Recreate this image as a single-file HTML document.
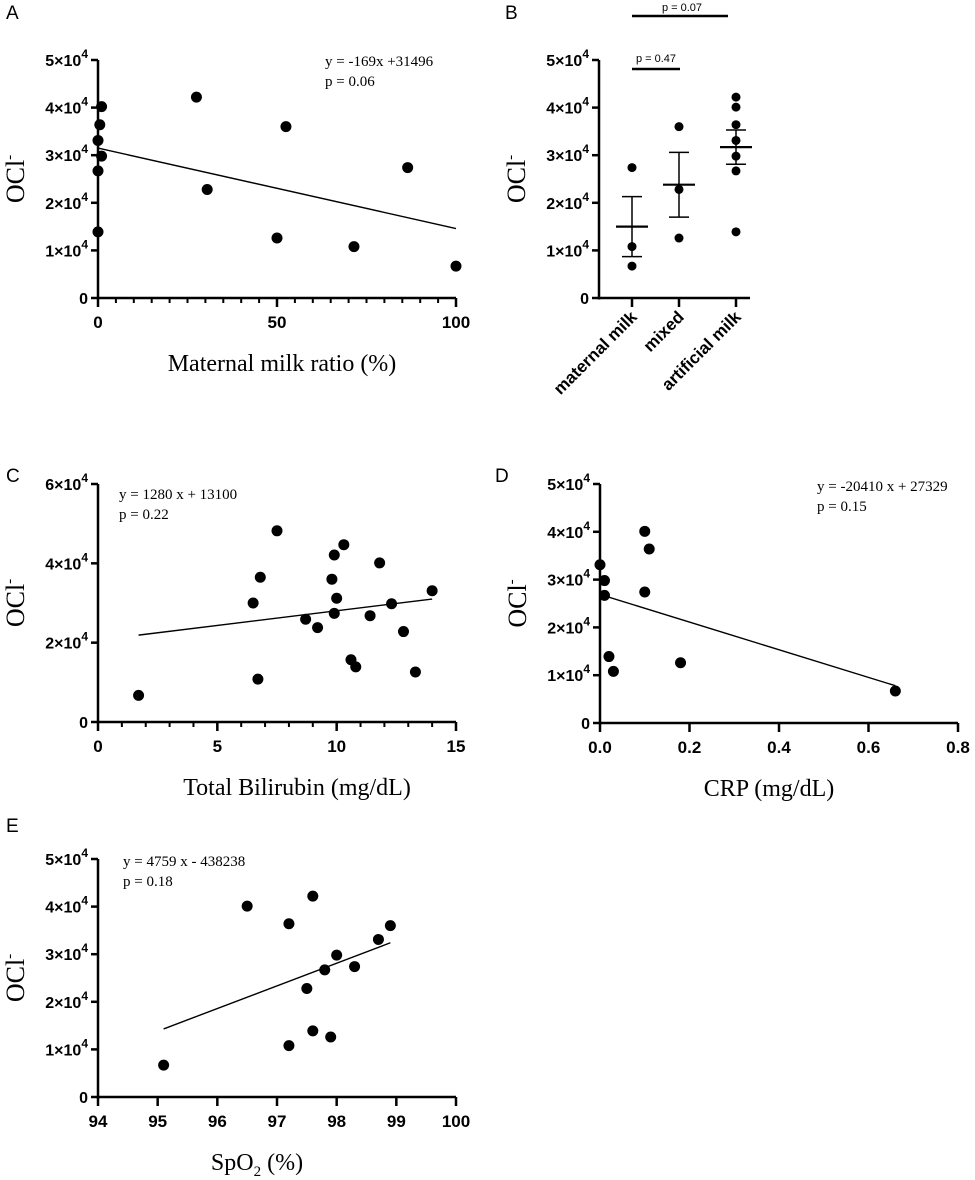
<!DOCTYPE html>
<html><head><meta charset="utf-8"><style>
body{margin:0;background:#fff;}
svg{display:block;}
.tk{font-family:"Liberation Sans",Arial,sans-serif;font-weight:bold;fill:#000;}
.sr{font-family:"Liberation Serif",serif;fill:#000;}
.pl{font-family:"Liberation Sans",sans-serif;font-size:19px;fill:#000;}
</style></head><body>
<svg id="fig" width="975" height="1180" viewBox="0 0 975 1180"></svg>
<script>
// Panel A data
const aX=[1,0.5,0,1,0,0,27.5,30.5,50,52.5,71.5,86.5,100];
const aY=[40200,36400,33100,29800,26700,13900,42200,22800,12600,36000,10800,27400,6700];
const aFit=[0,31496,100,14596];
// Panel B data
const bCats=["maternal milk","mixed","artificial milk"];
const bVals=[[27400,10800,6700],[36000,22800,12600],[42200,40100,36400,33100,29800,26700,13900]];
const bMean=[15000,23800,31700];
const bSem=[6300,6800,3600];
// Panel C data
const cX=[1.7,6.5,6.8,6.7,7.5,8.7,9.2,9.8,9.9,10.3,10.0,9.9,10.6,10.8,11.4,11.8,12.3,12.8,13.3,14.0];
const cY=[6700,30000,36500,10800,48200,25900,23800,36000,42100,44700,31200,27400,15700,13900,26800,40100,29800,22800,12600,33100];
const cFit=[1.7,21900,14,31000];
// Panel D data
const dX=[0,0.01,0.01,0.02,0.03,0.1,0.11,0.1,0.18,0.66];
const dY=[33100,29800,26700,13900,10800,40100,36400,27400,12600,6700];
const dFit=[0,26900,0.66,7800];
// Panel E data
const eX=[95.1,96.5,97.2,97.2,97.5,97.6,97.6,97.8,97.9,98.0,98.3,98.7,98.9];
const eY=[6700,40100,36400,10800,22800,42200,13900,26700,12600,29800,27400,33100,36000];
const eFit=[95.1,14300,98.9,32400];

const NS="http://www.w3.org/2000/svg";
const svg=document.getElementById('fig');
function el(tag,attrs,parent,text){const e=document.createElementNS(NS,tag);for(const k in attrs)e.setAttribute(k,attrs[k]);if(text!==undefined)e.textContent=text;(parent||svg).appendChild(e);return e;}
function yLab(g,v){
  const t=el('text',{x:0,y:0,'text-anchor':'end',class:'tk',style:'font-size:16px'},g);
  if(v===0){t.textContent='0';return t;}
  const m=v/10000;
  t.appendChild(document.createTextNode(m+'×10'));
  const s=document.createElementNS(NS,'tspan');s.setAttribute('dy','-8');s.setAttribute('style','font-size:12px');s.textContent='4';t.appendChild(s);
  return t;
}
function panel(o){
  const g=el('g',{});
  
  
  const sx=v=>o.x0+(v-o.xmin)/(o.xmax-o.xmin)*(o.x1-o.x0);
  const sy=v=>o.y0-(v/o.ymax)*(o.y0-o.y1);
  const L=el('text',{x:o.lx,y:o.ly,class:'pl'},g,o.id);
  
  
  el('line',{x1:o.x0,y1:o.y1,x2:o.x0,y2:o.y0+1.5,stroke:'#000','stroke-width':2.5},g);
  const xa=el('line',{x1:o.x0-1,y1:o.y0,x2:o.xend||o.x1,y2:o.y0,stroke:'#000','stroke-width':2.5},g);
  
  for(let v=0;v<=o.ymax;v+=o.ystep){
    const y=sy(v);
    el('line',{x1:o.x0-7,y1:y,x2:o.x0,y2:y,stroke:'#000','stroke-width':2.5},g);
    const t=yLab(g,v);t.setAttribute('transform',`translate(${o.x0-10},${y+6})`);
    
  }
  if(o.xticks){
    if(o.minor){for(let v=o.xmin;v<=o.xmax+1e-9;v+=o.minor){el('line',{x1:sx(v),y1:o.y0,x2:sx(v),y2:o.y0+5,stroke:'#000','stroke-width':2},g);}}
    o.xticks.forEach((v,i)=>{
      el('line',{x1:sx(v),y1:o.y0,x2:sx(v),y2:o.y0+9,stroke:'#000','stroke-width':2.5},g);
      const t=el('text',{x:sx(v),y:o.y0+30,'text-anchor':'middle',class:'tk',style:'font-size:17px'},g,o.xlabels[i]);
      
    });
  }
  const yt=el('text',{x:0,y:0,'text-anchor':'middle',class:'sr','font-size':26,transform:`translate(${o.x0-74},${(o.y0+o.y1)/2}) rotate(-90)`},g,'OCl');
  const sp=document.createElementNS(NS,'tspan');sp.setAttribute('dy','-10');sp.setAttribute('font-size','15');sp.textContent='-';yt.appendChild(sp);
  
  if(o.xtitle){
    const xt=el('text',{x:(o.x0+o.x1)/2+o.xtOff,y:o.y0+73,'text-anchor':'middle',class:'sr','font-size':24},g,o.xtitle);
    if(o.sub){const s=document.createElementNS(NS,'tspan');s.setAttribute('dy','6');s.setAttribute('font-size','15');s.textContent='2';xt.appendChild(s);
      const s2=document.createElementNS(NS,'tspan');s2.setAttribute('dy','-6');s2.textContent=' (%)';xt.appendChild(s2);}
    
  }
  return {g,sx,sy};
}
function scatter(o,xs,ys,fit){
  const p=panel(o);
  const ln=el('line',{x1:p.sx(fit[0]),y1:p.sy(fit[1]),x2:p.sx(fit[2]),y2:p.sy(fit[3]),stroke:'#000','stroke-width':1.4},p.g);
  
  xs.forEach((x,i)=>{
    const c=el('circle',{cx:p.sx(x),cy:p.sy(ys[i]),r:5.5,fill:'#000'},p.g);
    
    
  });
  const eq=el('text',{x:o.eqx,y:o.eqy,class:'sr','font-size':15},p.g,o.eq1);
  
  const pv=el('text',{x:o.eqx,y:o.eqy+20,class:'sr','font-size':15},p.g,o.eq2);
  
}
scatter({id:'A',lx:6,ly:19,x0:98,x1:456,y0:298,y1:60,xmin:0,xmax:100,ymax:50000,ystep:10000,xticks:[0,50,100],xlabels:['0','50','100'],minor:5,xtitle:'Maternal milk ratio (%)',xtOff:5,eqx:325,eqy:66,eq1:'y = -169x +31496',eq2:'p = 0.06'},aX,aY,aFit);
scatter({id:'C',lx:6,ly:482,x0:98,x1:456,y0:722,y1:484,xmin:0,xmax:15,ymax:60000,ystep:20000,xticks:[0,5,10,15],xlabels:['0','5','10','15'],minor:1,xtitle:'Total Bilirubin (mg/dL)',xtOff:20,eqx:119,eqy:499,eq1:'y = 1280 x + 13100',eq2:'p = 0.22'},cX,cY,cFit);
scatter({id:'D',lx:495,ly:482,x0:600,x1:958,y0:723,y1:484,xmin:0,xmax:0.8,ymax:50000,ystep:10000,xticks:[0,0.2,0.4,0.6,0.8],xlabels:['0.0','0.2','0.4','0.6','0.8'],minor:0,xtitle:'CRP (mg/dL)',xtOff:-10,eqx:817,eqy:491,eq1:'y = -20410 x + 27329',eq2:'p = 0.15'},dX,dY,dFit);
scatter({id:'E',lx:6,ly:832,x0:98,x1:456,y0:1097,y1:859,xmin:94,xmax:100,ymax:50000,ystep:10000,xticks:[94,95,96,97,98,99,100],xlabels:['94','95','96','97','98','99','100'],minor:0,xtitle:'SpO',sub:true,xtOff:-20,eqx:123,eqy:866,eq1:'y = 4759 x - 438238',eq2:'p = 0.18'},eX,eY,eFit);

// Panel B
(function(){
  const o={id:'B',lx:505,ly:19,x0:599,x1:750,xend:750,y0:298,y1:60,xmin:0,xmax:1,ymax:50000,ystep:10000};
  const p=panel(o);
  const cx=[632,679,736];
  bCats.forEach((c,i)=>{
    el('line',{x1:cx[i],y1:o.y0,x2:cx[i],y2:o.y0+9,stroke:'#000','stroke-width':2.5},p.g);
    const t=el('text',{x:0,y:0,'text-anchor':'end',class:'tk',style:'font-size:17px',transform:`translate(${cx[i]+6},${o.y0+20}) rotate(-45)`},p.g,c);
    
    bVals[i].forEach(v=>{
      const d=el('circle',{cx:cx[i],cy:p.sy(v),r:4.5,fill:'#000'},p.g);
      
      
    });
    const m=p.sy(bMean[i]),hi=p.sy(bMean[i]+bSem[i]),lo=p.sy(bMean[i]-bSem[i]);
    el('line',{x1:cx[i]-16,y1:m,x2:cx[i]+16,y2:m,stroke:'#000','stroke-width':2.2},p.g);
    el('line',{x1:cx[i],y1:hi,x2:cx[i],y2:lo,stroke:'#000','stroke-width':1.5},p.g);
    el('line',{x1:cx[i]-10,y1:hi,x2:cx[i]+10,y2:hi,stroke:'#000','stroke-width':1.5},p.g);
    el('line',{x1:cx[i]-10,y1:lo,x2:cx[i]+10,y2:lo,stroke:'#000','stroke-width':1.5},p.g);
  });
  el('line',{x1:632,y1:69,x2:680,y2:69,stroke:'#000','stroke-width':2.5},p.g);
  el('text',{x:656,y:62,'text-anchor':'middle',class:'tk',style:'font-size:11px;font-weight:normal'},p.g,'p = 0.47');
  el('line',{x1:632,y1:16,x2:728,y2:16,stroke:'#000','stroke-width':2.5},p.g);
  el('text',{x:682,y:11,'text-anchor':'middle',class:'tk',style:'font-size:11px;font-weight:normal'},p.g,'p = 0.07');
})();
</script>
</body></html>
